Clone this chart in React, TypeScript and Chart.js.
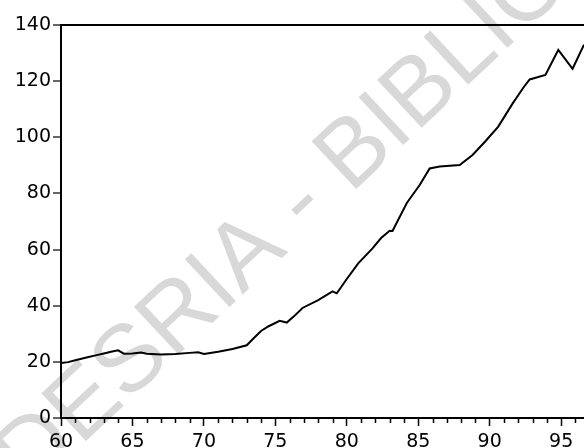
import React, { useEffect, useRef } from "react";
import { Chart, registerables } from "chart.js";

Chart.register(...registerables);

// Observation dates (two-digit years, fractional where the series turns)
const years = [
  60, 60.5, 61, 61.5, 62, 62.5, 63, 63.5, 64, 64.4, 65, 65.6, 66, 67, 68, 69, 69.6, 70,
  71, 72, 73, 73.5, 74, 74.5, 75.3, 75.8, 76.3, 76.9, 78, 79, 79.3, 80, 80.8, 81.8,
  82.4, 83, 83.2, 84.2, 85.1, 85.8, 86.5, 87.9, 88.8, 89.7, 90.6, 91.6, 92.4, 92.8,
  93.9, 94.8, 95.8, 96.6,
];

// Index level at each date
const values = [
  19.6, 19.9, 20.6, 21.2, 21.8, 22.4, 23.0, 23.6, 24.1, 22.9, 23.0, 23.3, 22.9, 22.6,
  22.8, 23.2, 23.4, 22.8, 23.6, 24.6, 25.9, 28.5, 31.0, 32.6, 34.6, 34.0, 36.2, 39.2,
  42.0, 45.1, 44.4, 49.5, 55.1, 60.4, 64.1, 66.7, 66.6, 76.6, 83.0, 88.9, 89.6, 90.1,
  93.7, 98.6, 103.8, 112.0, 118.0, 120.6, 122.2, 131.1, 124.4, 133.0,
];

const xTickStep = 5;
const yTicks = [0, 20, 40, 60, 80, 100, 120, 140];
const watermark = "CODESRIA - BIBLIOTHEQUE";

const FONT = '"DejaVu Sans", Verdana, sans-serif';
const STAMP_FONT = '"Liberation Sans", Arial, Helvetica, sans-serif';

// Faint diagonal stamp behind the plot
const watermarkPlugin = {
  id: "watermark",
  beforeDraw(chart: any) {
    const ctx = chart.ctx;
    ctx.save();
    ctx.font = `95px ${STAMP_FONT}`;
    ctx.fillStyle = "#d8d8d8";
    ctx.textBaseline = "alphabetic";
    ctx.textAlign = "left";
    ctx.translate(30, 493);
    ctx.rotate((-43 * Math.PI) / 180);
    const lead = ctx.measureText("CO").width;
    ctx.fillText(watermark, -lead, 0);
    ctx.restore();
  },
};

// Yearly minor ticks below the time axis
const minorTicksPlugin = {
  id: "minorTicks",
  afterDraw(chart: any) {
    const x = chart.scales.x;
    const ctx = chart.ctx;
    const bottom = chart.chartArea.bottom;
    ctx.save();
    ctx.strokeStyle = "#000";
    ctx.lineWidth = 1.5;
    for (let v = Math.ceil(x.min); v <= x.max; v++) {
      if (v % xTickStep === 0) continue;
      const px = Math.round(x.getPixelForValue(v)) + 0.5;
      ctx.beginPath();
      ctx.moveTo(px, bottom);
      ctx.lineTo(px, bottom + 5);
      ctx.stroke();
    }
    ctx.restore();
  },
};

export default function App() {
  const canvasRef = useRef<HTMLCanvasElement | null>(null);

  useEffect(() => {
    if (!canvasRef.current) return;
    const chart = new Chart(canvasRef.current, {
      type: "line",
      data: {
        datasets: [
          {
            data: years.map((x, i) => ({ x, y: values[i] })),
            borderColor: "#000",
            borderWidth: 2,
            pointRadius: 0,
            tension: 0,
            fill: false,
          },
        ],
      },
      plugins: [watermarkPlugin, minorTicksPlugin],
      options: {
        responsive: false,
        animation: false,
        events: [],
        layout: { padding: { top: 25, right: 0, left: 0, bottom: 0 } },
        plugins: { legend: { display: false }, tooltip: { enabled: false } },
        scales: {
          x: {
            type: "linear",
            min: 60,
            max: 96.6,
            afterFit(scale: any) {
              scale.height = 30;
            },
            ticks: {
              stepSize: xTickStep,
              includeBounds: false,
              autoSkip: false,
              maxRotation: 0,
              padding: 5,
              color: "#000",
              font: { family: FONT, size: 19 },
            },
            grid: {
              drawOnChartArea: false,
              tickLength: 8,
              tickColor: "#000",
              tickWidth: 1.5,
            },
            border: { color: "#000", width: 2 },
          },
          y: {
            min: 0,
            max: 140,
            afterFit(scale: any) {
              scale.width = 61;
            },
            afterBuildTicks(scale: any) {
              scale.ticks = yTicks.map((v) => ({ value: v }));
            },
            ticks: {
              padding: 2,
              color: "#000",
              font: { family: FONT, size: 19 },
            },
            grid: {
              drawOnChartArea: true,
              color: (c: any) =>
                c.tick && c.tick.value === 140 ? "#000" : "rgba(0,0,0,0)",
              lineWidth: 2,
              tickLength: 8,
              tickColor: "#000",
              tickWidth: 1.2,
            },
            border: { color: "#000", width: 2 },
          },
        },
      },
    });
    return () => chart.destroy();
  }, []);

  return (
    <div style={{ position: "absolute", left: 0, top: 0, width: 584, height: 448, background: "#fff" }}>
      <canvas ref={canvasRef} width={584} height={448} style={{ display: "block" }} />
    </div>
  );
}
